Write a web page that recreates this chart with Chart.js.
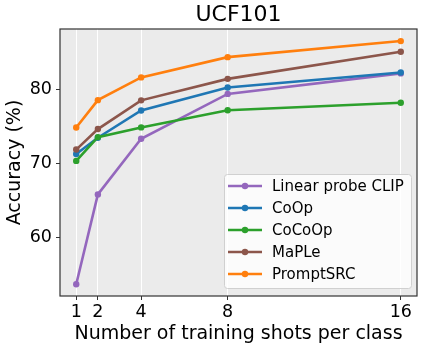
<!DOCTYPE html>
<html>
<head>
<meta charset="utf-8">
<script src="https://cdn.jsdelivr.net/npm/chart.js@4.4.0/dist/chart.umd.min.js"></script>
<style>
  html, body { margin: 0; padding: 0; background: #fff; }
  canvas { display: block; }
</style>
</head>
<body>
<canvas id="chart" width="423" height="350"></canvas>
<script>
// shots on the x axis
const shots = [1, 2, 4, 8, 16];
const yTicks = [60, 70, 80];

// accuracy per method (UCF101)
const linearProbe = [53.66, 65.78, 73.28, 79.34, 82.11];
const coop = [71.23, 73.43, 77.10, 80.20, 82.23];
const cocoop = [70.30, 73.51, 74.82, 77.14, 78.14];
const maple = [71.83, 74.60, 78.47, 81.37, 85.03];
const promptsrc = [74.80, 78.50, 81.57, 84.30, 86.47];

const names = ['Linear probe CLIP', 'CoOp', 'CoCoOp', 'MaPLe', 'PromptSRC'];
const colors = ['#9467bd', '#1f77b4', '#2ca02c', '#8c564b', '#ff7f0e'];
const values = [linearProbe, coop, cocoop, maple, promptsrc];

const FONT = '"DejaVu Sans", "Liberation Sans", sans-serif';

const datasets = values.map(function (vals, i) {
  return {
    label: names[i],
    data: vals.map(function (v, j) { return {x: shots[j], y: v}; }),
    borderColor: colors[i],
    backgroundColor: colors[i],
    borderWidth: 2.6,
    pointRadius: 3.2,
    pointHoverRadius: 3.2,
    pointBorderWidth: 0,
    tension: 0,
    order: values.length - i   // later series on top, like matplotlib
  };
});

// grey plot background + dark frame + legend in the lower right
const frame = {
  id: 'frame',
  beforeDraw(chart) {
    const a = chart.chartArea, ctx = chart.ctx;
    ctx.save();
    ctx.fillStyle = '#ebebeb';
    ctx.fillRect(a.left, a.top, a.right - a.left, a.bottom - a.top);
    ctx.restore();
  },
  afterDatasetsDraw(chart) {
    const a = chart.chartArea, ctx = chart.ctx;
    ctx.save();
    ctx.strokeStyle = '#333';
    ctx.lineWidth = 1.2;
    ctx.strokeRect(a.left, a.top, a.right - a.left, a.bottom - a.top);

    // legend
    const bx = 224, by = 174, bw = 187, bh = 114;
    ctx.fillStyle = 'rgba(255,255,255,0.8)';
    ctx.strokeStyle = '#d0d0d0';
    ctx.lineWidth = 1;
    ctx.beginPath();
    ctx.roundRect(bx + 0.5, by + 0.5, bw, bh, 3);
    ctx.fill();
    ctx.stroke();
    ctx.font = '15px ' + FONT;
    ctx.textBaseline = 'middle';
    ctx.textAlign = 'left';
    chart.data.datasets.forEach(function (ds, i) {
      const y = 186 + i * 22;
      ctx.strokeStyle = ds.borderColor;
      ctx.lineWidth = 2.6;
      ctx.beginPath();
      ctx.moveTo(228, y);
      ctx.lineTo(262, y);
      ctx.stroke();
      ctx.fillStyle = ds.borderColor;
      ctx.beginPath();
      ctx.arc(245, y, 3.2, 0, Math.PI * 2);
      ctx.fill();
      ctx.fillStyle = '#000';
      ctx.fillText(ds.label, 272, y + 1);
    });
    ctx.restore();
  }
};

new Chart(document.getElementById('chart'), {
  type: 'line',
  data: {datasets: datasets},
  options: {
    responsive: false,
    animation: false,
    devicePixelRatio: 1,
    layout: {padding: {left: 0, right: 6, top: 0, bottom: 0}},
    plugins: {
      legend: {display: false},
      tooltip: {enabled: false},
      title: {
        display: true,
        text: 'UCF101',
        fullSize: false,
        color: '#000',
        font: {family: FONT, size: 22, weight: 'normal'},
        padding: {top: 2.5, bottom: 0.1}
      }
    },
    scales: {
      x: {
        type: 'linear',
        min: 0.25,
        max: 16.75,
        afterBuildTicks: function (axis) { axis.ticks = shots.map(function (v) { return {value: v}; }); },
        afterFit: function (scale) { scale.height = 54; },
        grid: {color: '#ffffff', lineWidth: 1, tickColor: '#333', tickLength: 4, tickWidth: 1},
        border: {display: false},
        ticks: {color: '#000', padding: 1.5, font: {family: FONT, size: 17.5}, maxRotation: 0,
          callback: function (v) { return v; }},
        title: {display: true, text: 'Number of training shots per class', color: '#000',
          font: {family: FONT, size: 19}, padding: {top: 0, bottom: 4.6}}
      },
      y: {
        min: 52.07,
        max: 88.1,
        afterBuildTicks: function (axis) { axis.ticks = yTicks.map(function (v) { return {value: v}; }); },
        afterFit: function (scale) { scale.width = 60; },
        grid: {drawOnChartArea: false, tickColor: '#333', tickLength: 4, tickWidth: 1},
        border: {display: false},
        ticks: {color: '#000', padding: 4, font: {family: FONT, size: 17.5},
          callback: function (v) { return v; }},
        title: {display: true, text: 'Accuracy (%)', color: '#000',
          font: {family: FONT, size: 19}, padding: {top: 3.3, bottom: 0}}
      }
    }
  },
  plugins: [frame]
});
</script>
</body>
</html>
